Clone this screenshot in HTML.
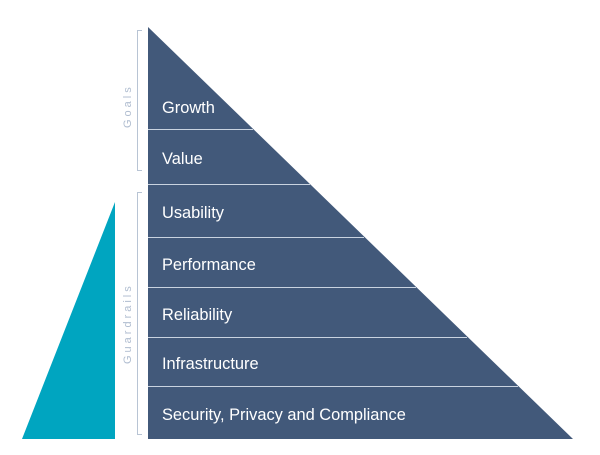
<!DOCTYPE html>
<html><head><meta charset="utf-8"><style>
html,body{margin:0;padding:0;background:#fff;}
</style></head><body>
<svg width="600" height="450" viewBox="0 0 600 450" xmlns="http://www.w3.org/2000/svg" font-family="Liberation Sans, sans-serif">
<polygon points="148,27 148,439 573,439" fill="#42597a"/>
<polygon points="115,202 115,439 22,439" fill="#00a5c0"/>
<g stroke="#c9d3e0" stroke-width="1">
<line x1="148" y1="129.5" x2="253" y2="129.5"/>
<line x1="148" y1="184.5" x2="310" y2="184.5"/>
<line x1="148" y1="237.5" x2="364" y2="237.5"/>
<line x1="148" y1="287.5" x2="416" y2="287.5"/>
<line x1="148" y1="337.5" x2="467" y2="337.5"/>
<line x1="148" y1="386.5" x2="518" y2="386.5"/>
</g>
<g fill="none" stroke="#b8c4d4" stroke-width="1">
<polyline points="142,30.5 137.5,30.5 137.5,170.5 142,170.5"/>
<polyline points="142,192.5 137.5,192.5 137.5,434.5 142,434.5"/>
</g>
<g fill="#b0bdd0" font-size="11" letter-spacing="3">
<text transform="translate(131,128) rotate(-90)">Goals</text>
<text transform="translate(131,364) rotate(-90)">Guardrails</text>
</g>
<g fill="#ffffff" font-size="16.4">
<text x="162" y="113">Growth</text>
<text x="162" y="164">Value</text>
<text x="162" y="218">Usability</text>
<text x="162" y="270">Performance</text>
<text x="162" y="320">Reliability</text>
<text x="162" y="369">Infrastructure</text>
<text x="162" y="420">Security, Privacy and Compliance</text>
</g>
</svg>
</body></html>
